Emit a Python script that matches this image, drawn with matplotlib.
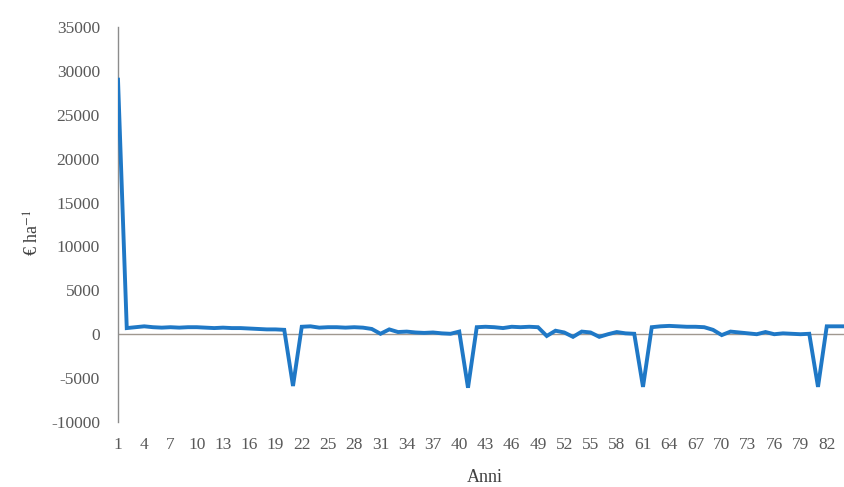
import numpy as np
import matplotlib.pyplot as plt

plt.rcParams['font.family'] = ['Liberation Serif', 'DejaVu Serif']
plt.rcParams['mathtext.fontset'] = 'stix'
plt.rcParams['axes.unicode_minus'] = False

anni = np.arange(1, 85)
valori = [29000, 700, 800, 900, 800, 750, 800, 750, 800, 800,
          750, 700, 750, 700, 700, 650, 600, 550, 550, 500,
          -5900, 850, 900, 750, 800, 800, 750, 800, 750, 600,
          50, 550, 250, 300, 200, 150, 200, 100, 50, 300,
          -6100, 800, 850, 800, 700, 850, 800, 850, 800, -200,
          400, 200, -300, 300, 200, -300, 0, 250, 100, 50,
          -6000, 800, 900, 950, 900, 850, 850, 800, 500, -100,
          300, 200, 100, 0, 250, 0, 100, 50, 0, 50,
          -6000, 900, 900, 900]
xticks = np.arange(1, 83, 3)
yticks = np.arange(-10000, 35001, 5000)

W, H = 845, 487
fig = plt.figure(figsize=(W / 100, H / 100), dpi=100)
ax = fig.add_axes([118 / W, (H - 422) / H, (W - 118) / W, 395 / H])

ax.plot(anni, valori, color='#1f78c6', lw=2.8, solid_joinstyle='miter', zorder=3)
ax.axhline(0, color='#a09890', lw=1.0, zorder=2)

ax.set_xlim(1, 1 + (W - 118) / 8.75)
ax.set_ylim(-10000, 35000)
ax.set_xticks(xticks)
ax.set_yticks(yticks)

for s in ['top', 'right', 'bottom']:
    ax.spines[s].set_visible(False)
ax.spines['left'].set_color('#8c8c8c')
ax.spines['left'].set_linewidth(1.0)

ax.tick_params(axis='both', length=0, labelsize=12.5, labelcolor='#595959')
ax.tick_params(axis='y', pad=13)
ax.tick_params(axis='x', pad=11)

ax.set_ylabel('€ ha$^{-1}$', fontsize=13, color='#404040')
ax.yaxis.set_label_coords(-0.103, 0.48)
fig.text(485 / W, (H - 478) / H, 'Anni', ha='center', va='center',
         fontsize=13, color='#404040')

fig.savefig('out.png', dpi=100)
